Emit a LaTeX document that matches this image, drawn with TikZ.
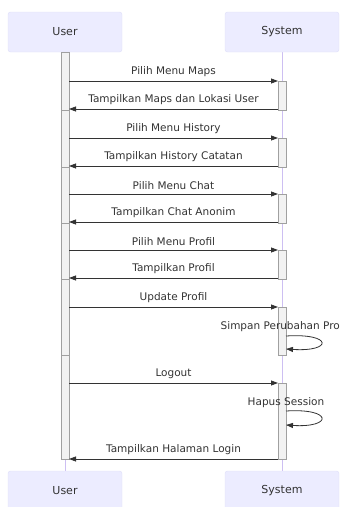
\documentclass[tikz,border=0pt]{standalone}
\usepackage{fontspec}
\setmainfont{DejaVu Sans}
\usetikzlibrary{arrows.meta}
\definecolor{actfill}{HTML}{ECECFF}
\definecolor{actdraw}{HTML}{DEDEF7}
\definecolor{life}{HTML}{CDBFF2}
\definecolor{barfill}{HTML}{F2F2F2}
\definecolor{bardraw}{HTML}{A0A0A0}
\definecolor{msgc}{HTML}{333333}
\begin{document}
\begin{tikzpicture}[x=1pt,y=-1pt,
  actor/.style={draw=actdraw,fill=actfill,rounded corners=2.5pt,minimum width=114pt,minimum height=40pt,inner sep=0pt,font=\fontsize{11}{13}\selectfont,text=msgc},
  life/.style={draw=life,line width=0.5pt},
  bar/.style={draw=bardraw,fill=barfill,line width=0.6pt},
  msg/.style={draw=msgc,line width=0.8pt,-{Triangle[length=7pt,width=5pt]}},
  lbl/.style={font=\fontsize{10.5}{12}\selectfont,text=msgc,inner sep=0pt}]
\clip (0,0) rectangle (340,507);
\useasboundingbox (0,0) rectangle (340,507);
% lifelines
\coordinate (ut) at (65,52); \coordinate (ub) at (65,471);
\coordinate (st) at (282,52); \coordinate (sb) at (282,471);
\draw[life] (ut) -- (ub);
\draw[life] (st) -- (sb);
% actors
\node[actor] (user1) at (65,32) {User};
\node[actor] (sys1) at (282,32) {System};
\node[actor] (user2) at (65,491) {User};
\node[actor] (sys2) at (282,491) {System};
% user activation bars
\foreach \a/\b in {52/110,110/167,167/223,223/279,279/355,355/459}
  \draw[bar] (61,\a) rectangle (69,\b);
% system activation bars
\foreach \a/\b in {81/110,138/167,194/223,250/279,307/355,383/459}
  \draw[bar] (278,\a) rectangle (286,\b);
% message endpoints
\foreach \n/\y in {1/81,2/109,3/138,4/166,5/194,6/222,7/250,8/278,9/307,11/383,13/459}{
  \coordinate (u\n) at (69,\y);
  \coordinate (s\n) at (278,\y);
}
\draw[msg] (u1) -- node[lbl,above=3.5pt] {Pilih Menu Maps} (s1);
\draw[msg] (s2) -- node[lbl,above=3.5pt] {Tampilkan Maps dan Lokasi User} (u2);
\draw[msg] (u3) -- node[lbl,above=3.5pt] {Pilih Menu History} (s3);
\draw[msg] (s4) -- node[lbl,above=3.5pt] {Tampilkan History Catatan} (u4);
\draw[msg] (u5) -- node[lbl,above=3.5pt] {Pilih Menu Chat} (s5);
\draw[msg] (s6) -- node[lbl,above=3.5pt] {Tampilkan Chat Anonim} (u6);
\draw[msg] (u7) -- node[lbl,above=3.5pt] {Pilih Menu Profil} (s7);
\draw[msg] (s8) -- node[lbl,above=3.5pt] {Tampilkan Profil} (u8);
\draw[msg] (u9) -- node[lbl,above=3.5pt] {Update Profil} (s9);
\draw[msg] (u11) -- node[lbl,above=3.5pt] {Logout} (s11);
\draw[msg] (s13) -- node[lbl,above=3.5pt] {Tampilkan Halaman Login} (u13);
% self messages
\node[lbl] (simpan) at (285,327) {Simpan Perubahan Profil};
\coordinate (sa1) at (286,336); \coordinate (sa2) at (286,349);
\draw[msg] (sa1) .. controls (333,333) and (333,352) .. (sa2);
\node[lbl] (hapus) at (286,403) {Hapus Session};
\coordinate (sb1) at (286,411); \coordinate (sb2) at (286,425);
\draw[msg] (sb1) .. controls (333,408) and (333,428) .. (sb2);
\end{tikzpicture}
\end{document}
